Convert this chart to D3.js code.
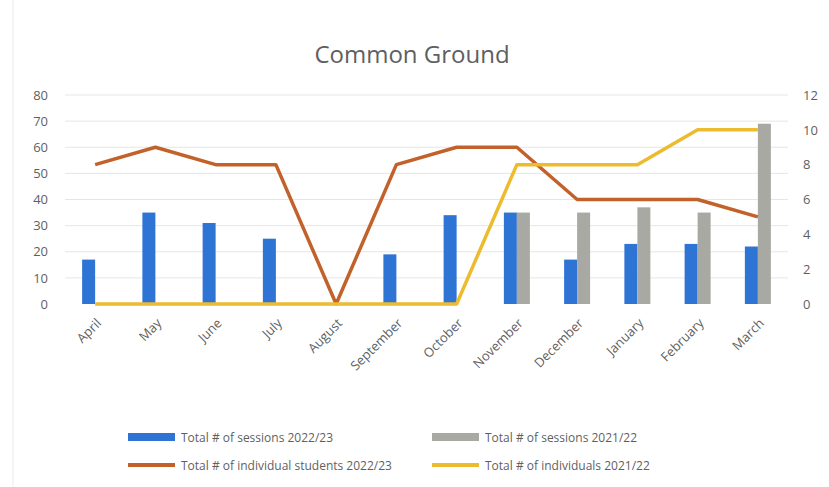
<!DOCTYPE html>
<html><head><meta charset="utf-8">
<script src="https://cdn.jsdelivr.net/npm/d3@7"></script>
<style>body{margin:0;background:#fff;} text{font-family:"Open Sans","Noto Sans",sans-serif;}</style>
</head><body>
<svg id="c" width="829" height="487"></svg>
<script>
const months = ["April","May","June","July","August","September","October","November","December","January","February","March"];
const sessions2223 = [17,35,31,25,0,19,34,35,17,23,23,22];
const sessions2122 = [null,null,null,null,null,null,null,35,35,37,35,69];
const students2223 = [8,9,8,8,0,8,9,9,6,6,6,5];
const individuals2122 = [0,0,0,0,0,0,0,8,8,8,10,10];
const leftTicks = [0,10,20,30,40,50,60,70,80];
const rightTicks = [0,2,4,6,8,10,12];
const legendLabels = ["Total # of sessions 2022/23","Total # of sessions 2021/22","Total # of individual students 2022/23","Total # of individuals 2021/22"];

const C = {blue:"#2E74D4", grey:"#A9A9A3", orange:"#C2612A", yellow:"#EDBB2E", text:"#5f5f5f", grid:"#E6E6E6"};
const svg = d3.select("#c");
const x0 = 65, x1 = 788, yTop = 95, yBot = 304;
const x = d3.scaleBand().domain(months).range([x0,x1]).paddingInner(0).paddingOuter(0);
const yL = d3.scaleLinear().domain([0,80]).range([yBot,yTop]);
const yR = d3.scaleLinear().domain([0,12]).range([yBot,yTop]);

// border
svg.append("rect").attr("x",13).attr("y",-2).attr("width",830).attr("height",492).attr("fill","none").attr("stroke","#ececec");

// title
svg.append("text").attr("x",412).attr("y",63).attr("text-anchor","middle").attr("font-size",24).attr("fill",C.text).text("Common Ground");

// grid
svg.append("g").selectAll("line").data(leftTicks.slice(1)).join("line")
  .attr("x1",x0).attr("x2",x1).attr("y1",d=>yL(d)).attr("y2",d=>yL(d)).attr("stroke",C.grid).attr("stroke-width",1);

// left axis
const gl = svg.append("g").attr("transform",`translate(${x0-10},0)`).call(d3.axisLeft(yL).tickValues(leftTicks).tickSize(0).tickPadding(7));
gl.select(".domain").remove();
gl.selectAll("text").attr("font-size",13).attr("fill",C.text).style("font-family","Open Sans");
// right axis
const gr = svg.append("g").attr("transform",`translate(${x1+8},0)`).call(d3.axisRight(yR).tickValues(rightTicks).tickSize(0).tickPadding(7));
gr.select(".domain").remove();
gr.selectAll("text").attr("font-size",13).attr("fill",C.text);

// bars
const bw = 13;
svg.append("g").selectAll("rect").data(months.map((m,i)=>({m,v:sessions2223[i]}))).join("rect")
  .attr("x",d=>x(d.m)+x.bandwidth()/2-bw).attr("width",bw)
  .attr("y",d=>yL(d.v)).attr("height",d=>yBot-yL(d.v)).attr("fill",C.blue);
svg.append("g").selectAll("rect").data(months.map((m,i)=>({m,v:sessions2122[i]})).filter(d=>d.v!=null)).join("rect")
  .attr("x",d=>x(d.m)+x.bandwidth()/2).attr("width",bw)
  .attr("y",d=>yL(d.v)).attr("height",d=>yBot-yL(d.v)).attr("fill",C.grey);

// lines
const line = d3.line().x(d=>x(d.m)+x.bandwidth()/2).y(d=>yR(d.v));
svg.append("path").datum(months.map((m,i)=>({m,v:students2223[i]}))).attr("d",line)
  .attr("fill","none").attr("stroke",C.orange).attr("stroke-width",3.5).attr("stroke-linejoin","round");
svg.append("path").datum(months.map((m,i)=>({m,v:individuals2122[i]}))).attr("d",line)
  .attr("fill","none").attr("stroke",C.yellow).attr("stroke-width",3.5).attr("stroke-linejoin","round");

// x labels
svg.append("g").selectAll("text").data(months).join("text")
  .attr("transform",d=>`translate(${x(d)+x.bandwidth()/2+7},${324}) rotate(-45)`)
  .attr("text-anchor","end").attr("font-size",13).attr("fill",C.text).text(d=>d);

// legend
const leg = [
  {x:128,y:437,c:C.blue,t:"bar",l:legendLabels[0]},
  {x:432,y:437,c:C.grey,t:"bar",l:legendLabels[1]},
  {x:128,y:465,c:C.orange,t:"line",l:legendLabels[2]},
  {x:432,y:465,c:C.yellow,t:"line",l:legendLabels[3]}
];
const lg = svg.append("g").selectAll("g").data(leg).join("g").attr("transform",d=>`translate(${d.x},${d.y})`);
lg.append("rect").attr("x",0).attr("width",47).attr("y",d=>d.t==="bar"?-4:-2).attr("height",d=>d.t==="bar"?8:4).attr("fill",d=>d.c);
lg.append("text").attr("x",53).attr("y",4.5).attr("font-size",12).attr("fill",C.text).text(d=>d.l);
</script>
</body></html>
